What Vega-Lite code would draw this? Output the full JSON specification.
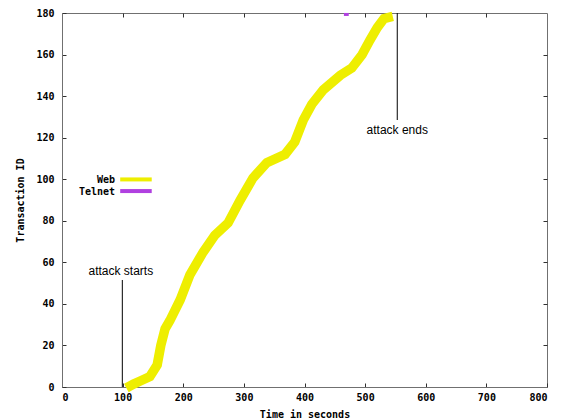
{
  "$schema": "https://vega.github.io/schema/vega-lite/v6.json",
  "autosize": "none",
  "width": 485,
  "height": 374,
  "padding": {"left": 62, "top": 13, "right": 22, "bottom": 33},
  "background": "white",
  "config": {
    "view": {"stroke": "#707070", "strokeWidth": 1},
    "axis": {
      "grid": false,
      "domainColor": "#707070",
      "tickColor": "#303030",
      "tickSize": -4,
      "labelFont": "DejaVu Sans Mono",
      "labelFontWeight": "bold",
      "labelFontSize": 10,
      "labelColor": "#000000",
      "titleFont": "DejaVu Sans Mono",
      "titleFontWeight": "bold",
      "titleFontSize": 10,
      "titleColor": "#000000"
    }
  },
  "datasets": {
    "web": [
      {"t": 113, "id": 0.6}, {"t": 118, "id": 1.4}, {"t": 130, "id": 3}, {"t": 145, "id": 5},
      {"t": 157, "id": 10.6}, {"t": 163, "id": 20}, {"t": 170, "id": 28}, {"t": 178, "id": 32},
      {"t": 195, "id": 42}, {"t": 211, "id": 54}, {"t": 233, "id": 65}, {"t": 252, "id": 73},
      {"t": 274, "id": 79}, {"t": 294, "id": 90}, {"t": 315, "id": 100.6}, {"t": 338, "id": 108},
      {"t": 368, "id": 112}, {"t": 384, "id": 118}, {"t": 398, "id": 128.5}, {"t": 412, "id": 136},
      {"t": 431, "id": 143}, {"t": 459, "id": 150}, {"t": 478, "id": 153.5}, {"t": 495, "id": 160},
      {"t": 508, "id": 167}, {"t": 520, "id": 173}, {"t": 531, "id": 177.3}, {"t": 538, "id": 177.8}
    ],
    "telnet": [{"t": 465, "id": 179.3}, {"t": 473, "id": 179.3}],
    "legendText": [
      {"t": 87.5, "id": 99.6, "label": "Web"},
      {"t": 87.5, "id": 94, "label": "Telnet"}
    ],
    "legendLines": [
      {"series": "Web", "t": 96, "t2": 148, "id": 99.9},
      {"series": "Telnet", "t": 96, "t2": 148, "id": 94.3}
    ],
    "annoText": [
      {"t": 97, "id": 56, "label": "attack starts"},
      {"t": 553, "id": 123.5, "label": "attack ends"}
    ],
    "annoLines": [
      {"t": 99.5, "id": 0, "id2": 51.5},
      {"t": 553, "id": 128.5, "id2": 180}
    ]
  },
  "resolve": {"axis": {"x": "independent", "y": "independent"}},
  "layer": [
    {
      "data": {"name": "web"},
      "mark": {"type": "line", "color": "#eeee00", "strokeWidth": 9.5, "strokeCap": "square", "strokeJoin": "miter"},
      "encoding": {
        "x": {"field": "t", "type": "quantitative",
              "scale": {"domain": [0, 800], "nice": false},
              "axis": {"orient": "bottom", "values": [0,100,200,300,400,500,600,700,800], "title": "Time in seconds", "titlePadding": 7, "labelPadding": 9}},
        "y": {"field": "id", "type": "quantitative",
              "scale": {"domain": [0, 180], "nice": false},
              "axis": {"orient": "left", "values": [0,20,40,60,80,100,120,140,160,180], "title": "Transaction ID", "titlePadding": 10, "labelPadding": 12}}
      }
    },
    {
      "data": {"name": "telnet"},
      "mark": {"type": "line", "color": "#b040e0", "strokeWidth": 3},
      "encoding": {
        "x": {"field": "t", "type": "quantitative",
              "axis": {"orient": "top", "values": [100,200,300,400,500,600,700], "labels": false, "title": null, "domain": false}},
        "y": {"field": "id", "type": "quantitative",
              "axis": {"orient": "right", "values": [20,40,60,80,100,120,140,160], "labels": false, "title": null, "domain": false}}
      }
    },
    {
      "data": {"name": "legendText"},
      "mark": {"type": "text", "align": "right", "baseline": "middle", "font": "DejaVu Sans Mono", "fontWeight": "bold", "fontSize": 10, "color": "#000000"},
      "encoding": {
        "x": {"field": "t", "type": "quantitative", "axis": null},
        "y": {"field": "id", "type": "quantitative", "axis": null},
        "text": {"field": "label"}
      }
    },
    {
      "data": {"name": "legendLines"},
      "mark": {"type": "rule", "strokeWidth": 4},
      "encoding": {
        "x": {"field": "t", "type": "quantitative", "axis": null},
        "x2": {"field": "t2"},
        "y": {"field": "id", "type": "quantitative", "axis": null},
        "color": {"field": "series", "type": "nominal", "scale": {"domain": ["Web", "Telnet"], "range": ["#eeee00", "#b040e0"]}, "legend": null}
      }
    },
    {
      "data": {"name": "annoText"},
      "mark": {"type": "text", "align": "center", "baseline": "middle", "font": "Liberation Sans", "fontSize": 12, "color": "#000000"},
      "encoding": {
        "x": {"field": "t", "type": "quantitative", "axis": null},
        "y": {"field": "id", "type": "quantitative", "axis": null},
        "text": {"field": "label"}
      }
    },
    {
      "data": {"name": "annoLines"},
      "mark": {"type": "rule", "color": "#000000", "strokeWidth": 1},
      "encoding": {
        "x": {"field": "t", "type": "quantitative", "axis": null},
        "y": {"field": "id", "type": "quantitative", "axis": null},
        "y2": {"field": "id2"}
      }
    }
  ]
}
